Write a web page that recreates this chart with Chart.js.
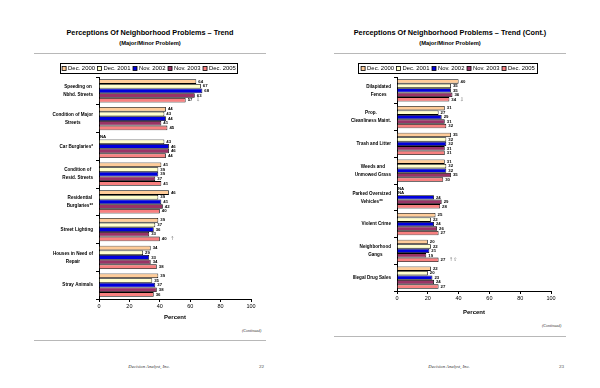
<!DOCTYPE html>
<html>
<head>
<meta charset="utf-8">
<script src="https://cdn.jsdelivr.net/npm/chart.js@4.4.0/dist/chart.umd.min.js"></script>
<style>
  body { margin: 0; width: 600px; height: 388px; background: #fff; position: relative; overflow: hidden;
         font-family: "Liberation Sans", Arial, sans-serif; color: #000; }
  .page { position: absolute; top: 0; width: 300px; height: 388px; }
  .title { position: absolute; left: 0; width: 300px; top: 28px; line-height: 9px; text-align: center;
           font-weight: bold; font-size: 7.3px; }
  .subtitle { position: absolute; left: 0; width: 300px; top: 39px; line-height: 8px; text-align: center;
              font-weight: bold; font-size: 5.8px; }
  .rule { position: absolute; left: 34px; width: 232px; height: 1px; background: #b8b8b8; }
  .cont { position: absolute; left: 242px; font-family: "Liberation Serif", serif; font-style: italic; font-size: 4px; color: #333; }
  .foot { position: absolute; left: 100px; width: 98px; top: 364px; text-align: center;
          font-family: "Liberation Serif", serif; font-style: italic; font-size: 4.7px; color: #333; }
  .num { position: absolute; left: 259px; top: 364px; font-family: "Liberation Serif", serif; font-size: 5px; color: #333; }
  canvas { position: absolute; }
</style>
</head>
<body>
<div class="page" style="left:0">
  <div class="title">Perceptions Of Neighborhood Problems – Trend</div>
  <div class="subtitle">(Major/Minor Problem)</div>
  <div class="rule" style="top:53px"></div>
  <div class="cont" style="top:328px">(Continued)</div>
  <div class="rule" style="top:340px"></div>
  <div class="foot">Decision Analyst, Inc.</div>
  <div class="num">22</div>
</div>
<div class="page" style="left:300px">
  <div class="title">Perceptions Of Neighborhood Problems – Trend (Cont.)</div>
  <div class="subtitle">(Major/Minor Problem)</div>
  <div class="rule" style="top:53px"></div>
  <div class="cont" style="top:323px">(Continued)</div>
  <div class="rule" style="top:336px"></div>
  <div class="foot">Decision Analyst, Inc.</div>
  <div class="num">23</div>
</div>
<canvas id="chartLeft" width="300" height="270" style="left:0;top:56px"></canvas>
<canvas id="chartRight" width="300" height="262" style="left:300px;top:56px"></canvas>

<script>
// --- data ---
const seriesLabels = ['Dec. 2000', 'Dec. 2001', 'Nov. 2002', 'Nov. 2003', 'Dec. 2005'];
const seriesColors = ['#FFCC99', '#FFFFCC', '#0000DD', '#993366', '#F88080'];
const xTicks = [0, 20, 40, 60, 80, 100];

// page 22
const leftProblems = [['Speeding on', 'Nbhd. Streets'], ['Condition of Major', 'Streets'], 'Car Burglaries*',
  ['Condition of', 'Resid. Streets'], ['Residential', 'Burglaries**'], 'Street Lighting',
  ['Houses in Need of', 'Repair'], 'Stray Animals'];
const leftDec2000 = [64, 44, null, 41, 46, 39, 34, 39];
const leftDec2001 = [67, 43, 43, 39, 39, 37, 29, 35];
const leftNov2002 = [68, 44, 46, 39, 41, 36, 33, 37];
const leftNov2003 = [63, 41, 46, 37, 42, 33, 34, 38];
const leftDec2005 = [57, 45, 44, 41, 40, 40, 38, 36];
const leftTrend = ['\u21E9', '', '', '', '', '\u2191', '', ''];

// page 23
const rightProblems = [['Dilapidated', 'Fences'], ['Prop.', 'Cleanliness Maint.'], 'Trash and Litter',
  ['Weeds and', 'Unmowed Grass'], ['Parked Oversized', 'Vehicles**'], 'Violent Crime',
  ['Neighborhood', 'Gangs'], 'Illegal Drug Sales'];
const rightDec2000 = [40, 31, 35, 31, null, 25, 20, 22];
const rightDec2001 = [35, 27, 32, 32, null, 22, 22, 20];
const rightNov2002 = [35, 29, 32, 32, 24, 24, 21, 23];
const rightNov2003 = [36, 31, 31, 35, 29, 26, 19, 24];
const rightDec2005 = [34, 32, 31, 30, 28, 27, 27, 27];
const rightTrend = ['\u21E9', '', '', '', '', '', '\u2191\u21E7', ''];

const FONT = '"Liberation Sans", Arial, sans-serif';

// boxed legend row above the plot
const boxLegend = {
  id: 'boxLegend',
  afterDraw(chart, args, opts) {
    const ctx = chart.ctx;
    const b = opts.box;
    ctx.save();
    ctx.strokeStyle = '#000';
    ctx.lineWidth = 1;
    ctx.strokeRect(b.x + 0.5, b.y + 0.5, b.w, b.h);
    ctx.font = '5.9px ' + FONT;
    ctx.textBaseline = 'middle';
    ctx.textAlign = 'left';
    const items = chart.data.datasets.map(ds => ({ text: ds.label, color: ds.backgroundColor }));
    const widths = items.map(it => 4 + 2 + ctx.measureText(it.text).width);
    const gap = 2.6;
    const total = widths.reduce((a, w) => a + w, 0) + gap * (items.length - 1);
    let x = b.x + (b.w - total) / 2 + 0.5;
    const cy = b.y + b.h / 2 + 0.5;
    items.forEach((it, i) => {
      ctx.fillStyle = it.color;
      ctx.fillRect(x, cy - 2, 4, 4);
      ctx.strokeStyle = '#000';
      ctx.lineWidth = 0.8;
      ctx.strokeRect(x, cy - 2, 4, 4);
      ctx.fillStyle = '#000';
      ctx.fillText(it.text, x + 6, cy + 0.3);
      x += widths[i] + gap;
    });
    ctx.restore();
  }
};

// category labels, value labels and trend marks
const barLabels = {
  id: 'barLabels',
  afterDraw(chart, args, opts) {
    const ctx = chart.ctx;
    const xs = chart.scales.x, ys = chart.scales.y;
    const x0 = xs.getPixelForValue(0);
    ctx.save();
    ctx.textBaseline = 'middle';

    // values
    ctx.font = 'bold 4.3px ' + FONT;
    ctx.textAlign = 'left';
    chart.data.datasets.forEach((ds, di) => {
      const meta = chart.getDatasetMeta(di);
      meta.data.forEach((bar, i) => {
        const v = ds.data[i];
        ctx.fillStyle = '#000';
        if (v === null) {
          ctx.fillText('NA', x0 + 1, bar.y);
          return;
        }
        const txt = String(v);
        ctx.fillText(txt, bar.x + 2, bar.y);
        if (di === chart.data.datasets.length - 1 && opts.trend[i]) {
          ctx.fillStyle = '#777';
          ctx.font = '5px "DejaVu Sans", sans-serif';
          ctx.fillText(opts.trend[i], bar.x + 4 + ctx.measureText(txt).width, bar.y);
          ctx.font = 'bold 4.3px ' + FONT;
        }
      });
    });

    // category names
    ctx.font = 'bold 4.6px ' + FONT;
    ctx.textAlign = 'center';
    ctx.fillStyle = '#000';
    chart.data.labels.forEach((lab, i) => {
      const lines = Array.isArray(lab) ? lab : [lab];
      const w = Math.max(...lines.map(l => ctx.measureText(l).width));
      const cx = chart.chartArea.left - 6 - w / 2;
      const cy = ys.getPixelForValue(i);
      lines.forEach((l, k) => ctx.fillText(l, cx, cy + (k - (lines.length - 1) / 2) * 8));
    });
    ctx.restore();
  }
};

function buildChart(id, categories, values, trend, geo) {
  const datasets = values.map((v, i) => ({
    label: seriesLabels[i],
    data: v,
    backgroundColor: seriesColors[i],
    borderColor: '#000',
    borderWidth: 0.8,
    categoryPercentage: 0.84,
    barPercentage: 1
  }));
  return new Chart(document.getElementById(id), {
    type: 'bar',
    data: { labels: categories, datasets: datasets },
    options: {
      indexAxis: 'y',
      responsive: false,
      animation: false,
      devicePixelRatio: 1,
      layout: { padding: { top: geo.top, right: geo.right, bottom: 0, left: 0 } },
      plugins: {
        legend: { display: false },
        tooltip: { enabled: false },
        boxLegend: { box: geo.legend },
        barLabels: { trend: trend }
      },
      scales: {
        x: {
          min: 0,
          max: 100,
          afterBuildTicks: s => { s.ticks = xTicks.map(v => ({ value: v })); },
          ticks: { font: { size: 5.5, family: FONT }, color: '#000', padding: 1, maxRotation: 0 },
          grid: { drawOnChartArea: false, tickLength: 3, color: '#000' },
          border: { color: '#000', width: 1 },
          title: { display: true, text: 'Percent', color: '#000',
                   font: { size: 6, weight: 'bold', family: FONT },
                   padding: { top: 0, bottom: geo.titlePad } },
          afterFit: s => { s.height = geo.xh; }
        },
        y: {
          ticks: { display: false },
          grid: { drawOnChartArea: false, tickLength: 3, color: '#000', offset: true },
          border: { color: '#000', width: 1 },
          afterFit: s => { s.width = geo.left; }
        }
      }
    },
    plugins: [boxLegend, barLabels]
  });
}

buildChart('chartLeft', leftProblems,
  [leftDec2000, leftDec2001, leftNov2002, leftNov2003, leftDec2005], leftTrend,
  { top: 21, right: 49, left: 99, xh: 27, titlePad: 5.4, legend: { x: 60, y: 7, w: 177, h: 10 } });

buildChart('chartRight', rightProblems,
  [rightDec2000, rightDec2001, rightNov2002, rightNov2003, rightDec2005], rightTrend,
  { top: 21, right: 49, left: 97, xh: 27, titlePad: 2.4, legend: { x: 58, y: 7, w: 179, h: 10 } });
</script>
</body>
</html>
